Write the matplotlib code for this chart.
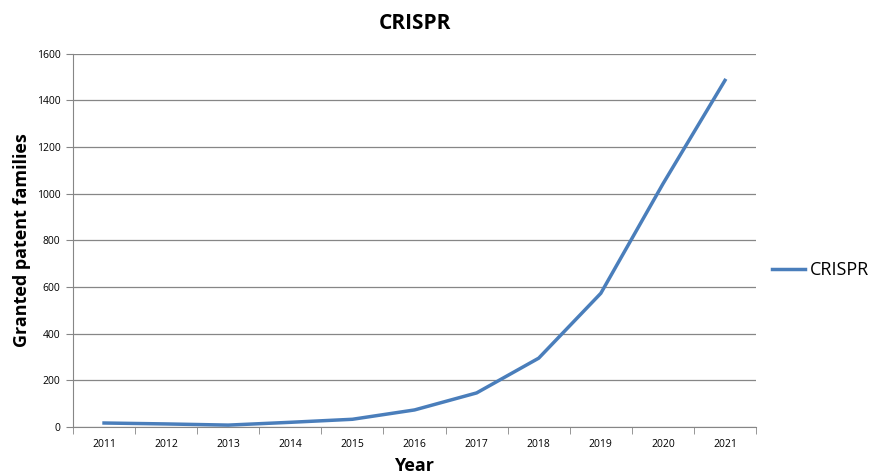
import matplotlib
matplotlib.use('Agg')
import matplotlib.pyplot as plt
from matplotlib.ticker import FixedLocator, NullFormatter

plt.rcParams['font.family'] = ['Open Sans', 'DejaVu Sans']

# Data
years = ['2011', '2012', '2013', '2014', '2015', '2016', '2017', '2018', '2019', '2020', '2021']
crispr = [17, 13, 8, 20, 33, 73, 146, 295, 573, 1042, 1486]
y_ticks = [0, 200, 400, 600, 800, 1000, 1200, 1400, 1600]

fig = plt.figure(figsize=(8.69, 4.76), dpi=100)
ax = fig.add_axes([0.084, 0.103, 0.786, 0.784])

x = list(range(len(years)))
ax.plot(x, crispr, color='#4A7EBB', linewidth=2.5, label='CRISPR', solid_joinstyle='miter')

ax.set_xlim(-0.5, len(years) - 0.5)
ax.set_ylim(0, 1600)
ax.set_yticks(y_ticks)
ax.set_yticklabels([str(v) for v in y_ticks], fontsize=7.5)
ax.yaxis.grid(True, color='#868686', linewidth=0.9)
ax.set_axisbelow(True)

# category labels centered, tick marks on boundaries
ax.set_xticks(x)
ax.set_xticklabels(years, fontsize=7.5)
ax.tick_params(axis='x', which='major', length=0, pad=9)
ax.xaxis.set_minor_locator(FixedLocator([i - 0.5 for i in range(len(years) + 1)]))
ax.xaxis.set_minor_formatter(NullFormatter())
ax.tick_params(axis='x', which='minor', length=5, color='#868686', direction='out')
ax.tick_params(axis='y', length=5, color='#868686', direction='out', pad=4)

for s in ['top', 'right']:
    ax.spines[s].set_visible(False)
ax.spines['left'].set_color('#868686')
ax.spines['bottom'].set_color('#868686')

ax.set_title('CRISPR', fontsize=15, fontweight='bold', pad=18)
ax.set_xlabel('Year', fontsize=13, fontweight='bold', labelpad=5)
ax.set_ylabel('Granted patent families', fontsize=13, fontweight='bold', labelpad=4)

ax.legend(loc='center left', bbox_to_anchor=(1.0, 0.42), frameon=False,
          fontsize=13, handlelength=1.8, handletextpad=0.3)

fig.savefig('out.png', dpi=100)
